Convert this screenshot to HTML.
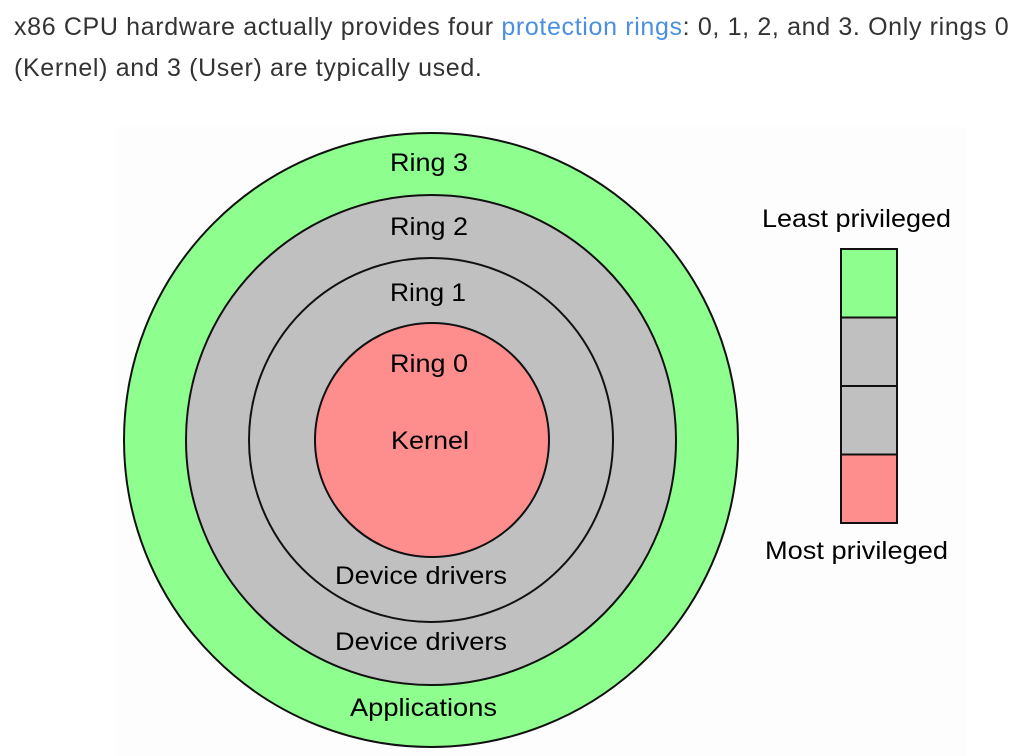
<!DOCTYPE html>
<html><head><style>
body{margin:0;background:#fff;width:1020px;height:756px;overflow:hidden}
p{position:absolute;left:14px;top:7px;margin:0;font-family:"Liberation Sans",sans-serif;font-size:25px;letter-spacing:0.65px;line-height:41px;color:#333;width:1010px;white-space:nowrap}
a{color:#4a90e2;text-decoration:none}
svg{position:absolute;left:0;top:0}
</style></head><body>
<p>x86 CPU hardware actually provides four <a>protection rings</a>: 0, 1, 2, and 3. Only rings 0<br>(Kernel) and 3 (User) are typically used.</p>
<svg width="1020" height="756" font-family="Liberation Sans, sans-serif" font-size="25" fill="#000">
<rect x="116" y="127" width="850" height="629" fill="#fdfdfd"/>
<g stroke="#111" stroke-width="2">
<circle cx="431" cy="440" r="307" fill="#8efe8e"/>
<circle cx="431" cy="440" r="245" fill="#c0c0c0"/>
<circle cx="431" cy="440" r="182" fill="#c0c0c0"/>
<circle cx="432" cy="440" r="117" fill="#fe8e8e"/>
<rect x="841" y="249" width="56" height="68.5" fill="#8efe8e"/>
<rect x="841" y="317.5" width="56" height="68.5" fill="#c0c0c0"/>
<rect x="841" y="386" width="56" height="68.5" fill="#c0c0c0"/>
<rect x="841" y="454.5" width="56" height="68.5" fill="#fe8e8e"/>
</g>
<g stroke="none">
<text x="390" y="171" textLength="78" lengthAdjust="spacingAndGlyphs">Ring 3</text>
<text x="390" y="235" textLength="78" lengthAdjust="spacingAndGlyphs">Ring 2</text>
<text x="390" y="301" textLength="76" lengthAdjust="spacingAndGlyphs">Ring 1</text>
<text x="390" y="372" textLength="78" lengthAdjust="spacingAndGlyphs">Ring 0</text>
<text x="391" y="449" textLength="78" lengthAdjust="spacingAndGlyphs">Kernel</text>
<text x="335" y="584" textLength="172" lengthAdjust="spacingAndGlyphs">Device drivers</text>
<text x="335" y="650" textLength="172" lengthAdjust="spacingAndGlyphs">Device drivers</text>
<text x="350" y="716" textLength="147" lengthAdjust="spacingAndGlyphs">Applications</text>
<text x="762" y="227" textLength="189" lengthAdjust="spacingAndGlyphs">Least privileged</text>
<text x="765" y="559" textLength="183" lengthAdjust="spacingAndGlyphs">Most privileged</text>
</g>
</svg>
</body></html>
